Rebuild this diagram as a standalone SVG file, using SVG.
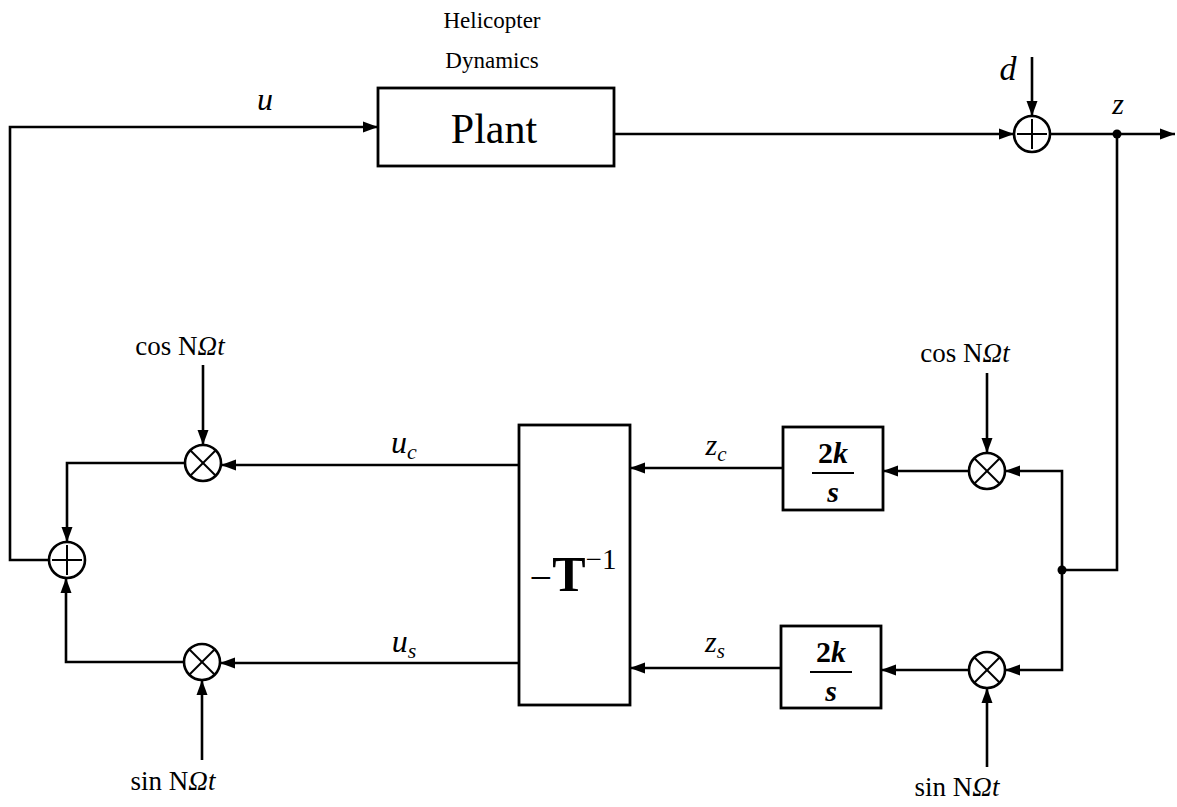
<svg xmlns="http://www.w3.org/2000/svg" width="1177" height="807" viewBox="0 0 1177 807">
<defs>
<marker id="ah" markerUnits="userSpaceOnUse" markerWidth="16" markerHeight="12" refX="15" refY="6" orient="auto">
<path d="M0,0.5 L15,6 L0,11.5 z" fill="#000"/>
</marker>
<style>
.ln{fill:none;stroke:#000;stroke-width:2.6}
.ar{fill:none;stroke:#000;stroke-width:2.6;marker-end:url(#ah)}
.bx{fill:#fff;stroke:#000;stroke-width:2.8}
.sym{fill:#fff;stroke:#000;stroke-width:2.6}
.in{stroke:#000;stroke-width:2}
.t{font-family:"Liberation Serif",serif;fill:#000;text-anchor:middle}
.i{font-style:italic}
.dot{fill:#000}
.osc{font-size:27px}
</style>
</defs>
<rect width="1177" height="807" fill="#fff"/>
<g id="connectors">
<path class="ar" d="M49,560 L10,560 L10,127 L378,127"/>
<path class="ar" d="M614,134 L1014,134"/>
<path class="ar" d="M1032,57 L1032,116"/>
<path class="ar" d="M1050,134 L1175,134"/>
<path class="ln" d="M1117,134 L1117,570 L1062,570"/>
<path class="ar" d="M1062,570 L1062,471 L1005,471"/>
<path class="ar" d="M1062,570 L1062,670 L1005,670"/>
<path class="ar" d="M987,373 L987,453"/>
<path class="ar" d="M987,767 L987,688"/>
<path class="ar" d="M969,471 L883,471"/>
<path class="ar" d="M969,670 L881,670"/>
<path class="ar" d="M783,468 L630,468"/>
<path class="ar" d="M781,668 L630,668"/>
<path class="ar" d="M519,465 L221,465"/>
<path class="ar" d="M519,663 L220,663"/>
<path class="ar" d="M203,365 L203,445"/>
<path class="ar" d="M202,760 L202,680"/>
<path class="ar" d="M185,463 L67,463 L67,542"/>
<path class="ar" d="M184,662 L66,662 L66,578"/>
<circle class="dot" cx="1117" cy="134" r="4.5"/>
<circle class="dot" cx="1062" cy="570" r="4.5"/>
</g>
<g id="plant">
<rect class="bx" x="378" y="88" width="236" height="78"/>
<text class="t" x="494" y="143" font-size="42">Plant</text>
<text class="t" x="492" y="28" font-size="23">Helicopter</text>
<text class="t" x="492" y="68" font-size="23">Dynamics</text>
</g>
<g id="label-u"><text class="t i" x="265" y="110" font-size="32">u</text></g>
<g id="sum-top">
<circle class="sym" cx="1032" cy="134" r="18"/>
<line class="in" x1="1017" y1="134" x2="1047" y2="134"/>
<line class="in" x1="1032" y1="119" x2="1032" y2="149"/>
<text class="t i" x="1008" y="80" font-size="34">d</text>
<text class="t i" x="1118" y="114" font-size="30">z</text>
</g>
<g id="mult-right-cos">
<circle class="sym" cx="987" cy="471" r="18"/>
<line class="in" x1="974" y1="458" x2="1000" y2="484"/>
<line class="in" x1="974" y1="484" x2="1000" y2="458"/>
<text class="t osc" x="965" y="362">cos N<tspan class="i">Ωt</tspan></text>
</g>
<g id="mult-right-sin">
<circle class="sym" cx="987" cy="670" r="18"/>
<line class="in" x1="974" y1="657" x2="1000" y2="683"/>
<line class="in" x1="974" y1="683" x2="1000" y2="657"/>
<text class="t osc" x="957" y="796">sin N<tspan class="i">Ωt</tspan></text>
</g>
<g id="integrator-c">
<rect class="bx" x="783" y="427" width="100" height="83"/>
<text class="t" x="833" y="463" font-size="30" font-weight="bold">2<tspan class="i">k</tspan></text>
<line class="in" x1="812" y1="473" x2="854" y2="473" stroke-width="2.8"/>
<text class="t i" x="833" y="502" font-size="30" font-weight="bold">s</text>
<text class="t i" x="716" y="455" font-size="30">z<tspan font-size="21" dy="6">c</tspan></text>
</g>
<g id="integrator-s">
<rect class="bx" x="781" y="626" width="100" height="82"/>
<text class="t" x="831" y="662" font-size="30" font-weight="bold">2<tspan class="i">k</tspan></text>
<line class="in" x1="810" y1="672" x2="852" y2="672" stroke-width="2.8"/>
<text class="t i" x="831" y="701" font-size="30" font-weight="bold">s</text>
<text class="t i" x="715" y="652" font-size="30">z<tspan font-size="21" dy="6">s</tspan></text>
</g>
<g id="T-inverse">
<rect class="bx" x="519" y="425" width="111" height="280"/>
<text class="t" x="573" y="591" font-size="50"><tspan font-size="40">−</tspan><tspan font-weight="bold">T</tspan><tspan font-size="29" dy="-22">−1</tspan></text>
</g>
<g id="mult-left-cos">
<circle class="sym" cx="203" cy="463" r="18"/>
<line class="in" x1="190" y1="450" x2="216" y2="476"/>
<line class="in" x1="190" y1="476" x2="216" y2="450"/>
<text class="t osc" x="180" y="355">cos N<tspan class="i">Ωt</tspan></text>
<text class="t i" x="404" y="453" font-size="32">u<tspan font-size="22" dy="6">c</tspan></text>
</g>
<g id="mult-left-sin">
<circle class="sym" cx="202" cy="662" r="18"/>
<line class="in" x1="189" y1="649" x2="215" y2="675"/>
<line class="in" x1="189" y1="675" x2="215" y2="649"/>
<text class="t osc" x="173" y="790">sin N<tspan class="i">Ωt</tspan></text>
<text class="t i" x="404" y="652" font-size="32">u<tspan font-size="22" dy="6">s</tspan></text>
</g>
<g id="sum-left">
<circle class="sym" cx="67" cy="560" r="18"/>
<line class="in" x1="52" y1="560" x2="82" y2="560"/>
<line class="in" x1="67" y1="545" x2="67" y2="575"/>
</g>
</svg>
